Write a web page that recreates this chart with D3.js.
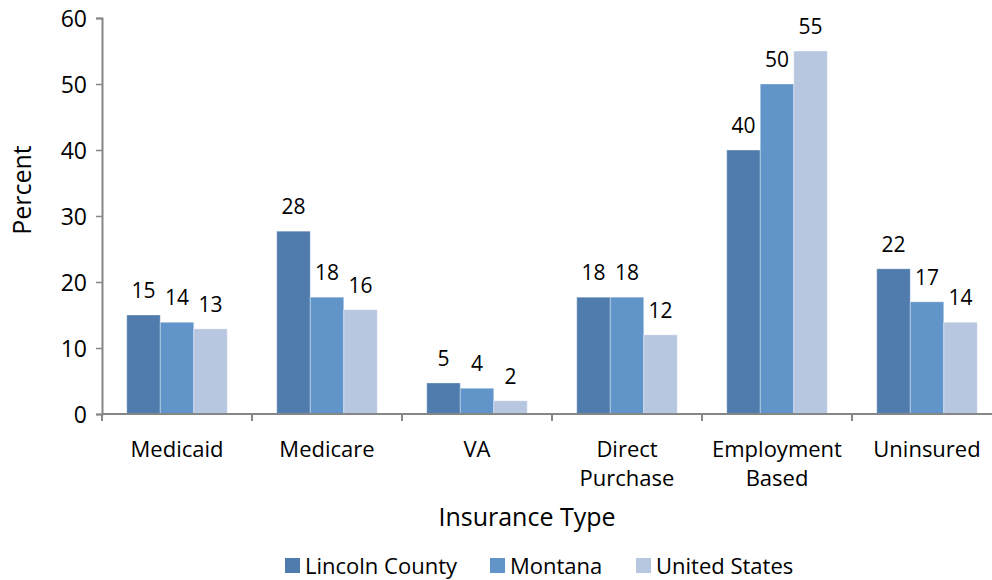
<!DOCTYPE html>
<html>
<head>
<meta charset="utf-8">
<script src="https://cdn.jsdelivr.net/npm/d3@7"></script>
<style>
  body { margin: 0; background: #fff; }
  text { font-family: "Open Sans", sans-serif; fill: #000; }
</style>
</head>
<body>
<div id="container"></div>
<script>
// Chart data
const categories = ["Medicaid", "Medicare", "VA", "Direct Purchase", "Employment Based", "Uninsured"];
const seriesNames = ["Lincoln County", "Montana", "United States"];
const lincolnCounty = [15.0, 27.7, 4.7, 17.7, 40.0, 22.0];
const montana = [13.9, 17.7, 3.9, 17.7, 50.0, 17.0];
const unitedStates = [12.9, 15.8, 2.0, 12.0, 55.0, 13.9];
const yTicks = [0, 10, 20, 30, 40, 50, 60];
const colors = ["#4f7cac", "#6195c9", "#b8c7e0"];

function BuildGraph(){
  let width = 992;
  let height = 580;
  let left = 102;
  let bottom = 414;
  let top = 18;

  let svg = d3.select('#container')
    .append('svg')
    .attr('width', width)
    .attr('height', height);

  let series = [lincolnCounty, montana, unitedStates];

  // Scales
  let xScale = d3.scaleBand()
    .domain(categories)
    .range([left, left + 6 * 150])
    .paddingInner(0.33)
    .paddingOuter(0.165);

  let xInner = d3.scaleBand()
    .domain(seriesNames)
    .range([0, xScale.bandwidth()]);

  let yScale = d3.scaleLinear()
    .domain([0, 60])
    .range([bottom, top]);

  // Bars
  let groups = svg.append('g')
    .selectAll('g')
    .data(categories)
    .enter()
    .append('g')
    .attr('transform', (d) => 'translate(' + xScale(d) + ',0)');

  groups.selectAll('rect')
    .data((d, i) => series.map((s, j) => ({ name: seriesNames[j], value: s[i], k: j })))
    .enter()
    .append('rect')
    .attr('x', (d) => xInner(d.name))
    .attr('width', xInner.bandwidth())
    .attr('y', (d) => yScale(d.value))
    .attr('height', (d) => bottom - yScale(d.value))
    .attr('fill', (d) => colors[d.k])
    .attr('stroke', 'rgba(255,255,255,0.35)')
    .attr('stroke-width', 1);

  // Data labels
  groups.selectAll('text')
    .data((d, i) => series.map((s, j) => ({ name: seriesNames[j], value: s[i] })))
    .enter()
    .append('text')
    .attr('x', (d) => xInner(d.name) + xInner.bandwidth() / 2)
    .attr('y', (d) => yScale(d.value) - 17)
    .attr('text-anchor', 'middle')
    .style('font-size', '21px')
    .text((d) => Math.round(d.value));

  // Y axis
  let yAxis = d3.axisLeft(yScale)
    .tickValues(yTicks)
    .tickSize(6)
    .tickPadding(9);
  let yG = svg.append('g')
    .attr('transform', 'translate(' + left + ',0)')
    .call(yAxis);
  yG.selectAll('text').style('font-size', '23px').attr('fill', '#000').attr('dy', '0.36em');

  // X axis with ticks at category boundaries
  let xAxis = d3.axisBottom(xScale)
    .tickSize(0)
    .tickPadding(0);
  let xG = svg.append('g')
    .attr('transform', 'translate(0,' + bottom + ')')
    .call(xAxis);
  xG.selectAll('.tick text').remove();
  xG.selectAll('.domain').attr('d', 'M' + left + ',0H' + (left + 900));
  let boundaries = d3.range(7).map((i) => left + i * xScale.step());
  xG.selectAll('line.bound')
    .data(boundaries)
    .enter()
    .append('line')
    .attr('class', 'bound')
    .attr('x1', (d) => d).attr('x2', (d) => d)
    .attr('y1', 0).attr('y2', 7);

  svg.selectAll('.domain, .tick line, line.bound')
    .attr('stroke', '#868686')
    .attr('stroke-width', 2);
  svg.selectAll('.tick line').attr('stroke-width', 1.5);

  // Category labels, wrapped to two words
  categories.forEach((c) => {
    let words = c.split(' ');
    let t = svg.append('text')
      .attr('x', xScale(c) + xScale.bandwidth() / 2)
      .attr('y', 457)
      .attr('text-anchor', 'middle')
      .style('font-size', '22px');
    words.forEach((w, i) => {
      t.append('tspan')
        .attr('x', xScale(c) + xScale.bandwidth() / 2)
        .attr('dy', i === 0 ? 0 : 29)
        .text(w);
    });
  });

  // Axis titles
  svg.append('text')
    .attr('transform', 'translate(31,190) rotate(-90)')
    .attr('text-anchor', 'middle')
    .style('font-size', '25px')
    .text('Percent');

  svg.append('text')
    .attr('x', 527)
    .attr('y', 526)
    .attr('text-anchor', 'middle')
    .style('font-size', '25px')
    .text('Insurance Type');

  // Legend
  let legendX = [285, 490, 636];
  let legend = svg.append('g')
    .selectAll('g')
    .data(seriesNames)
    .enter()
    .append('g')
    .attr('transform', (d, i) => 'translate(' + legendX[i] + ',558)');
  legend.append('rect')
    .attr('width', 15)
    .attr('height', 15)
    .attr('fill', (d, i) => colors[i]);
  legend.append('text')
    .attr('x', 20)
    .attr('y', 16)
    .style('font-size', '22px')
    .text((d) => d);
}

BuildGraph();
</script>
</body>
</html>
